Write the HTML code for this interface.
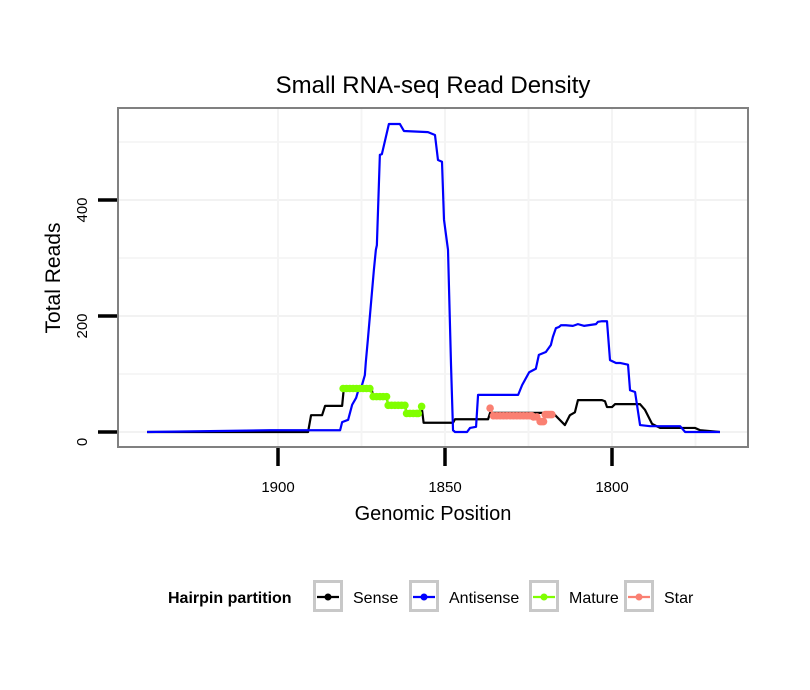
<!DOCTYPE html>
<html><head><meta charset="utf-8"><style>
html,body{margin:0;padding:0;background:#fff;}
svg{display:block;font-family:"Liberation Sans",sans-serif;}
</style></head><body>
<svg id="chart" width="810" height="690" viewBox="0 0 810 690">
<text x="433" y="93" font-size="24" text-anchor="middle">Small RNA-seq Read Density</text>
<g id="grid"></g>
<g id="series"></g>
<rect x="118" y="108" width="630" height="339" fill="none" stroke="#808080" stroke-width="2"/>
<g id="axes"></g>
<text x="433" y="520" font-size="20" text-anchor="middle">Genomic Position</text>
<text transform="translate(60,278) rotate(-90)" font-size="21" text-anchor="middle">Total Reads</text>
<g>
<text x="168" y="603" font-size="16" font-weight="bold">Hairpin partition</text>
<g id="legend"></g>
</g>
</svg>
<script>
const NS="http://www.w3.org/2000/svg";
const xTicks=[1900,1850,1800];
const xMinor=[1875,1825,1775];
const yTicks=[0,200,400];
const yMinor=[100,300,500];
const senseX=[1939.2,1891,1890.1,1886.8,1885.9,1880.8,1880.3,1872,1871.5,1867.5,1867,1862,1861.5,1857.5,1857,1856.4,1847.6,1847,1837.1,1836.5,1817.7,1814.1,1812.6,1811.1,1810.2,1803,1802.1,1801.5,1800,1799.1,1791.6,1790.1,1788,1785.6,1775.1,1773.6,1767.7];
const senseY=[0,0,29,29,45,45,75,75,61,61,46,46,32,32,44,16,16,22,22,33,33,12,29,34,55,55,53,43,43,48,48,38,14,7,7,3,0];
const antiX=[1939.2,1902.4,1891,1881.4,1880.8,1879,1877.8,1876.6,1876,1875.1,1874,1873.7,1873.1,1871.3,1870.7,1870.4,1869.5,1868.9,1866.8,1863.5,1862.3,1855.1,1853,1852.1,1850.9,1850.3,1849.1,1848.2,1847.6,1847,1843.4,1842.5,1840.7,1840.1,1828.1,1826.9,1824.8,1822.8,1821.9,1819.8,1818.3,1817.7,1816.8,1815.9,1815.3,1813.8,1811.7,1810.2,1808.4,1804.8,1804.2,1803,1801.5,1800.6,1798.8,1797.6,1795.2,1794.6,1793.1,1791.6,1788.6,1779.6,1778.1,1773.6,1767.7];
const antiY=[0,3,3,3,17,21,47,59,71,76,98,121,159,279,314,322,478,479,531,531,519,517,512,469,466,366,314,116,3,0,0,7,9,64,64,81,103,109,133,138,150,164,179,181,184,184,183,186,183,186,190,191,191,124,119,119,116,72,69,12,10,10,0,0,0];
const matureX=[1880.5,1879.5,1878.5,1877.5,1876.5,1875.5,1874.5,1873.5,1872.5,1871.5,1870.5,1869.5,1868.5,1867.5,1867,1866,1865,1864,1863,1862,1861.5,1860.5,1859.5,1858.5,1858,1857];
const matureY=[75,75,75,75,75,75,75,75,75,61,61,61,61,61,46,46,46,46,46,46,32,32,32,32,32,44];
const starX=[1836.5,1835.5,1834.5,1833.5,1832.5,1831.5,1830.5,1829.5,1828.5,1827.5,1826.5,1825.5,1824.5,1824,1823.5,1822.5,1821.5,1821,1820.5,1820,1819.5,1819,1818.5,1818];
const starY=[41,28,28,28,28,28,28,28,28,28,28,28,28,28,26,26,18,18,18,30,30,30,30,30];
const xScale=v=>278+(1900-v)*3.34;
const yScale=v=>432-v*0.58;
function mk(tag,attrs,parent){const e=document.createElementNS(NS,tag);for(const k in attrs)e.setAttribute(k,attrs[k]);parent.appendChild(e);return e;}
const grid=document.getElementById('grid'),axes=document.getElementById('axes'),ser=document.getElementById('series');
yMinor.forEach(v=>{const l=mk('line',{x1:119,x2:747,y1:yScale(v),y2:yScale(v),stroke:'#f6f6f6','stroke-width':2},grid);

});
yTicks.forEach(v=>{const l=mk('line',{x1:119,x2:747,y1:yScale(v),y2:yScale(v),stroke:'#f2f2f2','stroke-width':2},grid);

});
xMinor.concat(xTicks).forEach(v=>{const l=mk('line',{x1:xScale(v),x2:xScale(v),y1:109,y2:446,stroke:'#f4f4f4','stroke-width':2},grid);

});
yTicks.forEach(v=>{const t=mk('line',{x1:98,x2:117,y1:yScale(v),y2:yScale(v),stroke:'#000','stroke-width':3.5},axes);


const tx=mk('text',{transform:`translate(87,${yScale(v)+10}) rotate(-90)`,'font-size':15,'text-anchor':'middle'},axes);tx.textContent=v;

});
xTicks.forEach(v=>{const t=mk('line',{x1:xScale(v),x2:xScale(v),y1:448,y2:466,stroke:'#000','stroke-width':3.5},axes);


const tx=mk('text',{x:xScale(v),y:492,'font-size':15,'text-anchor':'middle'},axes);tx.textContent=v;

});
function line(xs,ys,color,name){const p=mk('polyline',{points:xs.map((x,i)=>xScale(x)+','+yScale(ys[i])).join(' '),fill:'none',stroke:color,'stroke-width':2.2,'stroke-linejoin':'round'},ser);

}
function dots(xs,ys,color,name){line(xs,ys,color,name+'-line');xs.forEach((x,i)=>{const c=mk('circle',{cx:xScale(x),cy:yScale(ys[i]),r:3.8,fill:color},ser);

});}
line(senseX,senseY,'#000','sense-line');
line(antiX,antiY,'#0000ff','antisense-line');
dots(matureX,matureY,'#80ff00','mature');
dots(starX,starY,'#fa8072','star');
const leg=document.getElementById('legend');
const items=[['Sense','#000',313],['Antisense','#0000ff',409],['Mature','#80ff00',529],['Star','#fa8072',624]];
items.forEach(([n,c,x])=>{const g=mk('g',{},leg);


mk('rect',{x:x+1.5,y:581.5,width:27,height:29,fill:'#fff',stroke:'#c8c8c8','stroke-width':3},g);
mk('line',{x1:x+4,x2:x+26,y1:597,y2:597,stroke:c,'stroke-width':2.2},g);
mk('circle',{cx:x+15,cy:597,r:3.5,fill:c},g);
const t=mk('text',{x:x+40,y:603,'font-size':16},g);t.textContent=n;});
</script>
</body></html>
